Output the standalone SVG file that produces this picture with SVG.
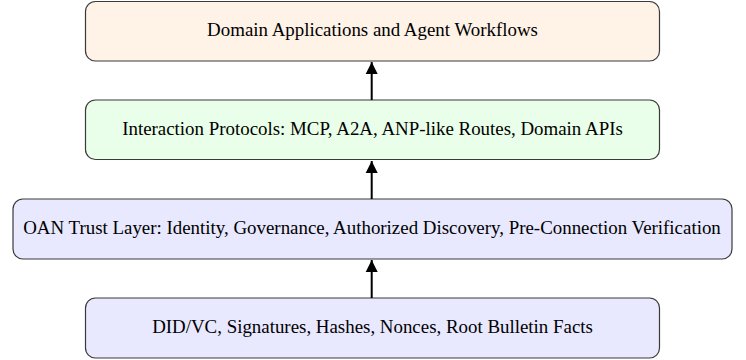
<svg xmlns="http://www.w3.org/2000/svg" width="746" height="360" viewBox="0 0 746 360">
<defs>
<style>
.box{stroke:#3a3a3a;stroke-width:1.2}
.t{font-family:"Liberation Serif","Times New Roman",serif;font-size:18.9px;fill:#000;text-anchor:middle}
.c{stroke:#000;stroke-width:2;fill:none}
</style>
<marker id="ah" viewBox="0 0 10 10" refX="10" refY="5" markerWidth="12" markerHeight="13" markerUnits="userSpaceOnUse" orient="auto" overflow="visible">
<path d="M0,0 L10,5 L0,10 Z" fill="#000"/>
</marker>
</defs>
<rect width="746" height="360" fill="#fff"/>
<g id="n1"><rect class="box" x="85.5" y="1.5" width="574" height="59.5" rx="10" fill="#fff2e6"/><text class="t" x="372.5" y="35.5">Domain Applications and Agent Workflows</text></g>
<g id="n2"><rect class="box" x="85.5" y="100" width="574" height="59.5" rx="10" fill="#e9ffe9"/><text class="t" x="372.5" y="134.5">Interaction Protocols: MCP, A2A, ANP-like Routes, Domain APIs</text></g>
<g id="n3"><rect class="box" x="13" y="199" width="719" height="60" rx="10" fill="#e8e8ff"/><text class="t" x="372" y="234">OAN Trust Layer: Identity, Governance, Authorized Discovery, Pre-Connection Verification</text></g>
<g id="n4"><rect class="box" x="85.5" y="298" width="574" height="60" rx="10" fill="#e8e8ff"/><text class="t" x="372.5" y="333">DID/VC, Signatures, Hashes, Nonces, Root Bulletin Facts</text></g>
<g id="connectors">
<line class="c" x1="371.7" y1="100" x2="371.7" y2="62" marker-end="url(#ah)"/>
<line class="c" x1="371.7" y1="199" x2="371.7" y2="161" marker-end="url(#ah)"/>
<line class="c" x1="371.7" y1="298" x2="371.7" y2="260" marker-end="url(#ah)"/>
</g>
</svg>
